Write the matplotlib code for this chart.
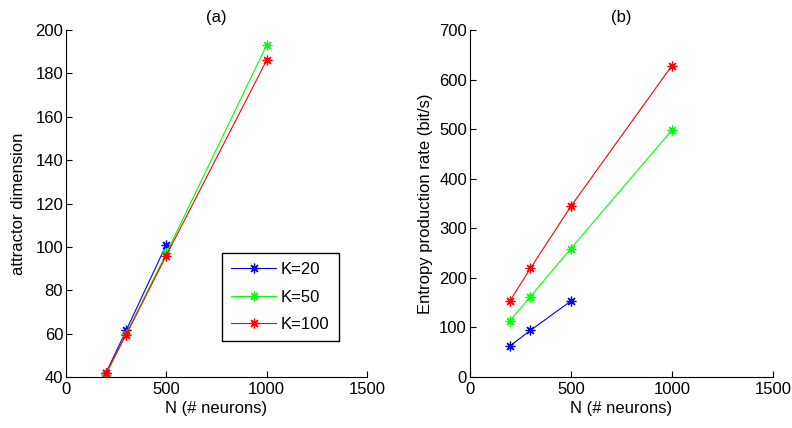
import matplotlib.pyplot as plt

plt.rcParams['font.family'] = ['Liberation Sans', 'DejaVu Sans']
plt.rcParams['font.size'] = 12

# network sizes and results per in-degree K
N_20 = [200, 300, 500]
N_50 = [200, 300, 500, 1000]
N_100 = [200, 300, 500, 1000]

dim_20 = [42, 61.5, 101]
dim_50 = [41, 60, 97, 193]
dim_100 = [42, 59.5, 96, 186]

ent_20 = [63, 94, 153]
ent_50 = [114, 162, 259, 498]
ent_100 = [154, 219, 344, 628]

labels = ['K=20', 'K=50', 'K=100']
colors = ['#0000ff', '#00ff00', '#ff0000']

# 8-armed asterisk marker
STAR = (8, 2, 0)

fig = plt.figure(figsize=(7.92, 4.28), dpi=100)
ax1 = fig.add_axes([0.0833, 0.119, 0.380, 0.811])
ax2 = fig.add_axes([0.593, 0.119, 0.383, 0.811])

series_a = [(N_20, dim_20), (N_50, dim_50), (N_100, dim_100)]
series_b = [(N_20, ent_20), (N_50, ent_50), (N_100, ent_100)]

for ax, series in [(ax1, series_a), (ax2, series_b)]:
    for (x, y), c, lab in zip(series, colors, labels):
        ax.plot(x, y, color=c, marker=STAR, markersize=7, lw=0.8,
                markeredgewidth=0.9, label=lab)
    ax.set_xlim(0, 1500)
    ax.set_xticks([0, 500, 1000, 1500])
    ax.spines['top'].set_visible(False)
    ax.spines['right'].set_visible(False)
    ax.tick_params(direction='in', length=4, width=0.8, labelsize=12)
    ax.tick_params(axis='y', pad=2)
    ax.set_xlabel('N (# neurons)', labelpad=3)

ax1.set_ylim(40, 200)
ax1.set_yticks(range(40, 201, 20))
ax1.set_ylabel('attractor dimension', labelpad=7)
ax1.set_title('(a)', fontsize=12, pad=6)

ax2.set_ylim(0, 700)
ax2.set_yticks(range(0, 701, 100))
ax2.set_ylabel('Entropy production rate (bit/s)', labelpad=4)
ax2.set_title('(b)', fontsize=12, pad=6)

leg = ax1.legend(loc='upper left', bbox_to_anchor=(0.518, 0.357),
                 borderaxespad=0, fancybox=False, edgecolor='black',
                 framealpha=1, handlelength=2.7, borderpad=0.55,
                 labelspacing=0.75, handletextpad=0.3, fontsize=12)
leg.get_frame().set_linewidth(1.0)

fig.savefig('out.png', dpi=100)
